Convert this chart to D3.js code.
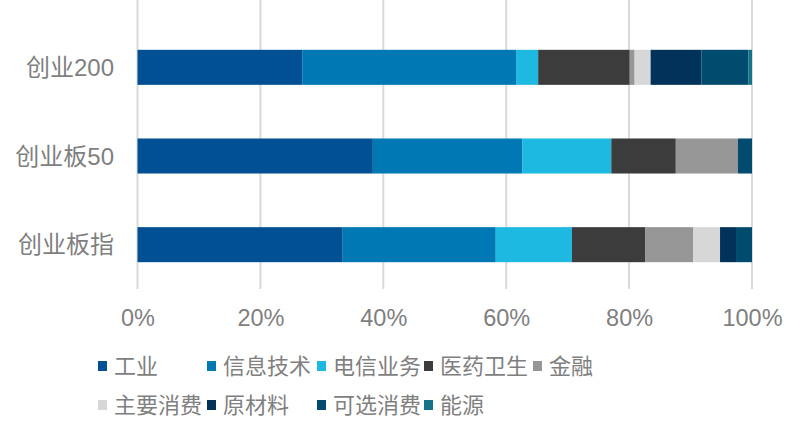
<!DOCTYPE html>
<html><head><meta charset="utf-8">
<script src="https://cdn.jsdelivr.net/npm/d3@7/dist/d3.min.js"></script>
<style>body{margin:0;background:#fff}svg{display:block}</style>
</head><body><svg id="c" width="806" height="435"></svg>
<script>
const categories = ["创业200", "创业板50", "创业板指"];
const seriesNames = ["工业","信息技术","电信业务","医药卫生","金融","主要消费","原材料","可选消费","能源"];
const seriesColors = ["#005093","#0078B4","#1EB9E1","#3C3C3C","#969696","#D7D7D7","#00325A","#004B6E","#147387"];
// values in % per category, order follows seriesNames
const v_cy200 = [26.8, 34.8, 3.6, 14.9, 0.8, 2.6, 8.3, 7.6, 0.6];
const v_cyb50 = [38.3, 24.3, 14.5, 10.5, 10.1, 0, 0, 2.3, 0];
const v_cybz  = [33.4, 24.9, 12.4, 11.9, 7.8, 4.4, 2.6, 2.6, 0];
const tickValues = [0, 0.2, 0.4, 0.6, 0.8, 1.0];

const valueRows = [v_cy200, v_cyb50, v_cybz];
const data = categories.map((c, i) => {
  const o = {cat: c};
  seriesNames.forEach((s, j) => o[s] = valueRows[i][j] / 100);
  return o;
});

const svg = d3.select("#c");
const font = "'Liberation Sans', Arial, 'Noto Sans CJK SC', sans-serif";
const textColor = "#7f7f7f";

const x = d3.scaleLinear().domain([0, 1]).range([137.5, 752]);
const y = d3.scaleBand().domain(categories).range([23, 289]).paddingInner(0.605).paddingOuter(0.3025);

// gridlines
svg.append("g").selectAll("line").data(tickValues).join("line")
  .attr("x1", d => x(d)).attr("x2", d => x(d))
  .attr("y1", 0).attr("y2", 289)
  .attr("stroke", "#d9d9d9").attr("stroke-width", 2);

// stacked bars
const stack = d3.stack().keys(seriesNames);
const layers = stack(data);
svg.append("g").selectAll("g").data(layers).join("g")
  .attr("fill", (d, i) => seriesColors[i])
  .selectAll("rect").data(d => d).join("rect")
  .attr("x", d => x(d[0]))
  .attr("width", d => Math.max(0, x(d[1]) - x(d[0])))
  .attr("y", d => y(d.data.cat))
  .attr("height", y.bandwidth());

// x axis labels
const xAxis = d3.axisBottom(x).tickValues(tickValues).tickFormat(d3.format(".0%")).tickSize(0).tickPadding(0);
const gx = svg.append("g").attr("transform", "translate(0,309)").call(xAxis);
gx.select(".domain").remove();
gx.selectAll("text").attr("font-family", font).attr("font-size", "23.5px").attr("fill", textColor).attr("dy", "0.72em");

// y axis labels
const yAxis = d3.axisLeft(y).tickSize(0).tickPadding(0);
const gy = svg.append("g").attr("transform", "translate(114,0)").call(yAxis);
gy.select(".domain").remove();
gy.selectAll("text").attr("font-family", font).attr("font-size", "24px").attr("fill", textColor).attr("dy", "0.36em");

// legend
const legendPos = [
  [98, 366], [207, 366], [317, 366], [424, 366], [533, 366],
  [98, 405], [207, 405], [317, 405], [424, 405]
];
const lg = svg.append("g").selectAll("g").data(seriesNames).join("g")
  .attr("transform", (d, i) => `translate(${legendPos[i][0]},${legendPos[i][1]})`);
lg.append("rect").attr("x", 0).attr("y", -5).attr("width", 9).attr("height", 10)
  .attr("fill", (d, i) => seriesColors[i]);
lg.append("text").attr("x", 16).attr("y", 0).attr("dy", "0.36em")
  .attr("font-family", font).attr("font-size", "22px").attr("fill", textColor)
  .text(d => d);
</script></body></html>
